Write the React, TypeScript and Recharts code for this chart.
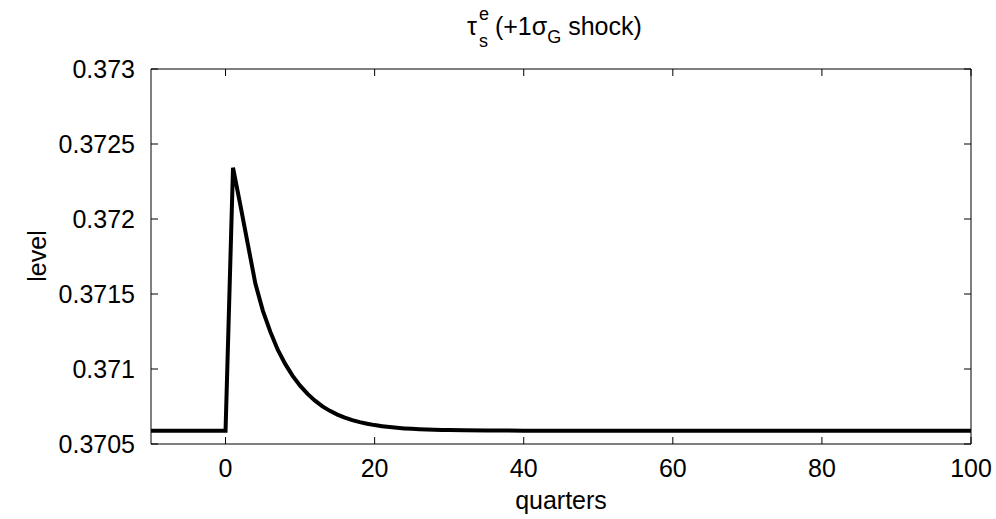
import React from "react";
import { LineChart, Line, XAxis, YAxis } from "recharts";

// impulse response of tau_s^e to a +1 sigma G shock
const quarters = [
  -10, 0, 1, 2, 3, 4, 5, 6, 7, 8, 9, 10, 11, 12, 13, 14, 15, 16, 17, 18, 19, 20,
  21, 22, 23, 24, 25, 26, 27, 28, 29, 30, 32, 35, 40, 100,
];
const levels = [
  0.370589, 0.370589, 0.372342, 0.372089, 0.371829, 0.371569, 0.371389, 0.371249,
  0.371129, 0.371034, 0.370954, 0.370889, 0.370834, 0.370789, 0.370751, 0.370721,
  0.370696, 0.370676, 0.370659, 0.370646, 0.370635, 0.370626, 0.370619, 0.370613,
  0.370608, 0.370604, 0.370601, 0.370599, 0.370597, 0.370595, 0.370594, 0.370593,
  0.370591, 0.37059, 0.370589, 0.370589,
];
const xTicks = [0, 20, 40, 60, 80, 100];
const yTicks = [0.3705, 0.371, 0.3715, 0.372, 0.3725, 0.373];

const data = quarters.map((q, i) => ({ quarter: q, level: levels[i] }));

const font = "'Liberation Sans', Arial, Helvetica, sans-serif";
const TICK = 7;

// matlab style: ticks point into the box
const BottomTick = (p: any) => (
  <g>
    <line x1={p.x} x2={p.x} y1={p.y - 15} y2={p.y - 15 - TICK} stroke="#000" strokeWidth={1} />
    <text x={p.x} y={p.y} dy="0.71em" textAnchor="middle" fontSize={25} fontFamily={font} fill="#000">
      {String(p.payload.value)}
    </text>
  </g>
);
const LeftTick = (p: any) => (
  <g>
    <line x1={p.x + 16} x2={p.x + 16 + TICK} y1={p.y} y2={p.y} stroke="#000" strokeWidth={1} />
    <text x={p.x} y={p.y} dy="0.355em" textAnchor="end" fontSize={25} fontFamily={font} fill="#000">
      {String(p.payload.value)}
    </text>
  </g>
);
const TopTick = (p: any) => <line x1={p.x} x2={p.x} y1={p.y} y2={p.y + TICK} stroke="#000" strokeWidth={1} />;
const RightTick = (p: any) => <line x1={p.x} x2={p.x - TICK} y1={p.y} y2={p.y} stroke="#000" strokeWidth={1} />;

export default function App() {
  return (
    <div style={{ position: "absolute", left: 0, top: 0, width: 996, height: 519, background: "#fff", fontFamily: font, color: "#000" }}>
      <LineChart width={996} height={519} data={data} margin={{ top: 68, right: 24, bottom: 35, left: 71 }}>
        <XAxis
          dataKey="quarter"
          type="number"
          domain={[-10, 100]}
          ticks={xTicks}
          interval={0}
          height={40}
          tickSize={0}
          tickMargin={15}
          tickLine={false}
          tick={BottomTick}
          stroke="#000"
        />
        <XAxis
          xAxisId="top"
          orientation="top"
          dataKey="quarter"
          type="number"
          domain={[-10, 100]}
          ticks={xTicks}
          interval={0}
          height={1}
          tickSize={0}
          tickMargin={0}
          tickLine={false}
          tick={TopTick}
          stroke="#000"
        />
        <YAxis
          type="number"
          domain={[0.3705, 0.373]}
          ticks={yTicks}
          interval={0}
          width={80}
          tickSize={0}
          tickMargin={16}
          tickLine={false}
          tick={LeftTick}
          stroke="#000"
        />
        <YAxis
          yAxisId="right"
          orientation="right"
          type="number"
          domain={[0.3705, 0.373]}
          ticks={yTicks}
          interval={0}
          width={1}
          tickSize={0}
          tickMargin={0}
          tickLine={false}
          tick={RightTick}
          stroke="#000"
        />
        <Line
          xAxisId="top"
          yAxisId="right"
          type="linear"
          dataKey="level"
          stroke="#fff"
          strokeOpacity={0}
          dot={false}
          isAnimationActive={false}
        />
        <Line
          type="linear"
          dataKey="level"
          stroke="#000"
          strokeWidth={4}
          dot={false}
          isAnimationActive={false}
        />
      </LineChart>
      <svg width={996} height={60} style={{ position: "absolute", left: 0, top: 0 }}>
        <text x={467} y={35} fontSize={25} fontFamily={font} fill="#000">
          τ
          <tspan dx={2} dy={-15} fontSize={18}>e</tspan>
          <tspan dx={-10} dy={27} fontSize={18}>s</tspan>
          <tspan dx={7} dy={-12}>(+1σ</tspan>
          <tspan dy={8} fontSize={18}>G</tspan>
          <tspan dy={-8}> shock)</tspan>
        </text>
      </svg>
      <div style={{ position: "absolute", left: 151, width: 820, top: 486, textAlign: "center", fontSize: 25 }}>quarters</div>
      <div style={{ position: "absolute", left: 37, top: 256, fontSize: 25, transform: "translate(-50%, -50%) rotate(-90deg)", whiteSpace: "nowrap" }}>level</div>
    </div>
  );
}
